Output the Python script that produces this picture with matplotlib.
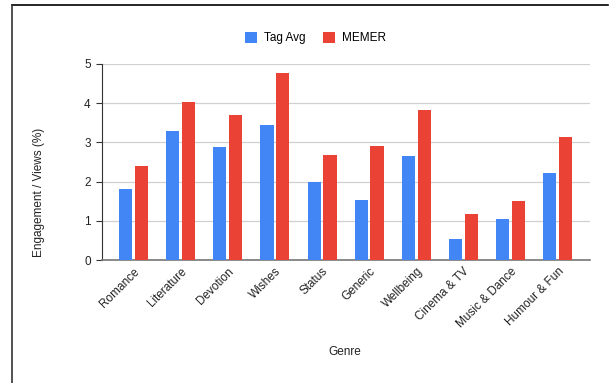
import numpy as np
import matplotlib.pyplot as plt
from matplotlib.patches import Patch
from matplotlib.lines import Line2D

plt.rcParams['font.family'] = ['Liberation Sans', 'DejaVu Sans']

genres = ["Romance", "Literature", "Devotion", "Wishes", "Status", "Generic",
          "Wellbeing", "Cinema & TV", "Music & Dance", "Humour & Fun"]
tag_avg = [1.81, 3.29, 2.88, 3.45, 1.98, 1.53, 2.65, 0.54, 1.05, 2.21]
memer = [2.41, 4.02, 3.70, 4.78, 2.68, 2.90, 3.83, 1.18, 1.50, 3.13]

blue = "#4285F4"
red = "#EA4335"

fig = plt.figure(figsize=(6.13, 3.83), dpi=100)
ax = fig.add_axes([0.166, 0.321, 0.796, 0.512])

x = np.arange(len(genres))
w = 0.28
ax.bar(x - 0.168, tag_avg, w, color=blue, zorder=3)
ax.bar(x + 0.168, memer, w, color=red, zorder=3)

ax.set_xlim(-0.675, 9.68)
ax.set_ylim(0, 5)
ax.set_yticks(range(6))
ax.yaxis.grid(True, color="#d0d0d0", linewidth=0.9, zorder=0)
for s in ["top", "right"]:
    ax.spines[s].set_visible(False)
ax.spines["left"].set_color("#333333")
ax.spines["bottom"].set_color("#777777")
ax.spines["bottom"].set_linewidth(1.2)
ax.tick_params(axis="y", length=4, color="#333333", labelsize=8.5, labelcolor="#222222", pad=4)
ax.tick_params(axis="x", length=0, labelsize=8.5, labelcolor="#222222", pad=4)
ax.set_xticks(x)
ax.set_xticklabels(genres, rotation=45, ha="right", rotation_mode="anchor")

ax.set_ylabel("Engagement / Views (%)", fontsize=8.5, color="#222222")
ax.yaxis.set_label_coords(-0.117, 0.347)
fig.text(0.563, 0.08, "Genre", fontsize=8.5, color="#222222", ha="center", va="center")

handles = [Patch(facecolor=blue, label="Tag Avg"), Patch(facecolor=red, label="MEMER")]
fig.legend(handles=handles, loc="center", bbox_to_anchor=(0.515, 0.9), ncol=2,
           frameon=False, fontsize=8.5, handlelength=1.0, handleheight=1.0,
           columnspacing=1.5, handletextpad=0.6)

# outer frame (top and left edges of the screenshot border)
fig.add_artist(Line2D([0.0196, 0.992], [0.987, 0.987], color="black", linewidth=1.2))
fig.add_artist(Line2D([0.0196, 0.0196], [0.0, 0.987], color="#333333", linewidth=1.2))

fig.savefig("out.png", dpi=100, facecolor="white")
